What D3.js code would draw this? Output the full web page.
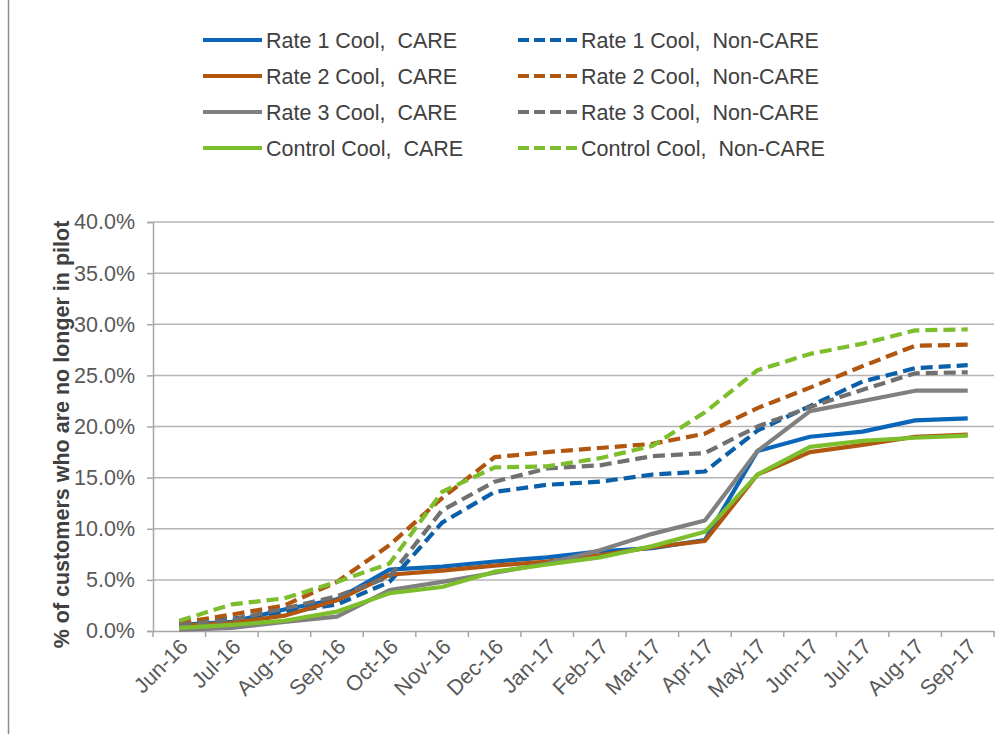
<!DOCTYPE html>
<html>
<head>
<meta charset="utf-8">
<script src="https://cdn.jsdelivr.net/npm/d3@7"></script>
<style>
    body { margin: 0; background: #fff; }
    svg { display: block; font-family: "Liberation Sans", Arial, sans-serif; }
</style>
</head>
<body>
<div id="chart"></div>
<script>
const months = ["Jun-16", "Jul-16", "Aug-16", "Sep-16", "Oct-16", "Nov-16", "Dec-16", "Jan-17",
    "Feb-17", "Mar-17", "Apr-17", "May-17", "Jun-17", "Jul-17", "Aug-17", "Sep-17"];

const rate1Care      = [0.6, 0.9, 2.1, 3.1, 6.0, 6.3, 6.8, 7.2, 7.8, 8.1, 8.9, 17.6, 19.0, 19.5, 20.6, 20.8];
const rate1NonCare   = [0.7, 1.2, 1.8, 2.6, 4.8, 10.6, 13.6, 14.3, 14.6, 15.3, 15.6, 19.6, 22.0, 24.4, 25.7, 26.0];
const rate2Care      = [0.5, 0.8, 1.5, 3.0, 5.5, 5.9, 6.4, 6.8, 7.4, 8.2, 8.8, 15.3, 17.5, 18.2, 19.0, 19.2];
const rate2NonCare   = [0.8, 1.6, 2.5, 4.8, 8.4, 13.0, 17.0, 17.5, 17.9, 18.3, 19.3, 21.8, 23.8, 25.9, 27.9, 28.0];
const rate3Care      = [0.1, 0.3, 0.9, 1.4, 4.0, 4.8, 5.7, 6.6, 7.9, 9.5, 10.8, 17.6, 21.5, 22.5, 23.5, 23.5];
const rate3NonCare   = [0.6, 1.1, 2.2, 3.4, 5.3, 11.8, 14.6, 15.9, 16.2, 17.1, 17.4, 20.0, 21.9, 23.6, 25.2, 25.3];
const controlCare    = [0.3, 0.6, 1.0, 1.9, 3.7, 4.3, 5.8, 6.5, 7.2, 8.3, 9.7, 15.3, 18.0, 18.6, 18.9, 19.1];
const controlNonCare = [1.0, 2.6, 3.2, 4.8, 6.6, 13.6, 16.0, 16.1, 16.9, 18.1, 21.4, 25.5, 27.1, 28.1, 29.4, 29.5];

const yTicks = [0, 5, 10, 15, 20, 25, 30, 35, 40];

// legend order is row by row, two columns
const series = [
    { name: "Rate 1 Cool,  CARE",        values: rate1Care,      color: "#0A66B8", dashed: false },
    { name: "Rate 1 Cool,  Non-CARE",    values: rate1NonCare,   color: "#0A60A8", dashed: true },
    { name: "Rate 2 Cool,  CARE",        values: rate2Care,      color: "#B0560F", dashed: false },
    { name: "Rate 2 Cool,  Non-CARE",    values: rate2NonCare,   color: "#B0560F", dashed: true },
    { name: "Rate 3 Cool,  CARE",        values: rate3Care,      color: "#808080", dashed: false },
    { name: "Rate 3 Cool,  Non-CARE",    values: rate3NonCare,   color: "#707070", dashed: true },
    { name: "Control Cool,  CARE",       values: controlCare,    color: "#7DBE2C", dashed: false },
    { name: "Control Cool,  Non-CARE",   values: controlNonCare, color: "#7DBE2C", dashed: true }
];

const width = 1002;
const height = 734;
const margin = { top: 222, right: 8, bottom: 103, left: 153 };

const svg = d3.select("#chart").append("svg")
    .attr("width", width)
    .attr("height", height);

// outer frame line on the left
svg.append("line")
    .attr("x1", 8.5).attr("x2", 8.5)
    .attr("y1", 0).attr("y2", height)
    .attr("stroke", "#8c8c8c")
    .attr("stroke-width", 1.5);

const x = d3.scaleBand()
    .domain(months)
    .range([margin.left, width - margin.right]);

const y = d3.scaleLinear()
    .domain([0, 40])
    .range([height - margin.bottom, margin.top]);

// gridlines
svg.append("g")
    .selectAll("line")
    .data(yTicks.slice(1))
    .join("line")
        .attr("x1", margin.left)
        .attr("x2", width - margin.right)
        .attr("y1", d => y(d))
        .attr("y2", d => y(d))
        .attr("stroke", "#b4b4b4")
        .attr("stroke-width", 1.5);

function yAxis(g) {
    g.attr("transform", `translate(${margin.left}, 0)`)
        .call(d3.axisLeft(y).tickValues(yTicks).tickSize(6).tickPadding(12)
            .tickFormat(d => d.toFixed(1) + "%"));
    g.selectAll(".domain").attr("stroke", "#a6a6a6").attr("stroke-width", 1.5);
    g.selectAll(".tick line").attr("stroke", "#a6a6a6").attr("stroke-width", 1.5);
    g.selectAll("text")
        .attr("fill", "#595959")
        .style("font-size", "21.5px")
        .style("font-family", "'Liberation Sans', Arial, sans-serif");
}

function xAxis(g) {
    g.attr("transform", `translate(0, ${height - margin.bottom})`)
        .call(d3.axisBottom(x).tickSize(0).tickFormat(""));
    g.selectAll(".domain").attr("stroke", "#a6a6a6").attr("stroke-width", 1.5);
    // tick marks sit between categories
    g.selectAll(".edge")
        .data(d3.range(months.length + 1))
        .join("line")
            .attr("class", "edge")
            .attr("x1", i => margin.left + i * x.step())
            .attr("x2", i => margin.left + i * x.step())
            .attr("y1", 0).attr("y2", 6)
            .attr("stroke", "#a6a6a6")
            .attr("stroke-width", 1.5);
    g.selectAll(".mlabel")
        .data(months)
        .join("text")
            .attr("class", "mlabel")
            .attr("text-anchor", "end")
            .attr("transform", d => `translate(${x(d) + x.bandwidth() / 2 + 10}, 17) rotate(-45)`)
            .attr("fill", "#595959")
            .style("font-size", "21.5px")
            .text(d => d);
}

svg.append("g").call(xAxis);
svg.append("g").call(yAxis);

svg.append("text")
    .attr("text-anchor", "middle")
    .attr("transform", `translate(69, ${(margin.top + height - margin.bottom) / 2 + 8}) rotate(-90)`)
    .attr("fill", "#404040")
    .style("font-size", "21.5px")
    .style("font-weight", "bold")
    .text("% of customers who are no longer in pilot");

const line = d3.line()
    .x((d, i) => x(months[i]) + x.bandwidth() / 2)
    .y(d => y(d));

svg.append("g")
    .attr("fill", "none")
    .selectAll("path")
    .data(series)
    .join("path")
        .attr("d", d => line(d.values))
        .attr("stroke", d => d.color)
        .attr("stroke-width", 4.2)
        .attr("stroke-linejoin", "round")
        .attr("stroke-dasharray", d => d.dashed ? "12,6" : null);

// legend
const legend = svg.append("g")
    .selectAll("g")
    .data(series)
    .join("g")
        .attr("transform", (d, i) => `translate(${i % 2 === 0 ? 203 : 518}, ${40 + Math.floor(i / 2) * 36})`);

legend.append("line")
    .attr("x1", 0).attr("x2", 59)
    .attr("stroke", d => d.color)
    .attr("stroke-width", 4.2)
    .attr("stroke-dasharray", d => d.dashed ? "11,5" : null);

legend.append("text")
    .attr("x", 63)
    .attr("dy", "0.35em")
    .attr("fill", "#404040")
    .style("font-size", "21.5px")
    .attr("xml:space", "preserve")
    .text(d => d.name);
</script>
</body>
</html>
